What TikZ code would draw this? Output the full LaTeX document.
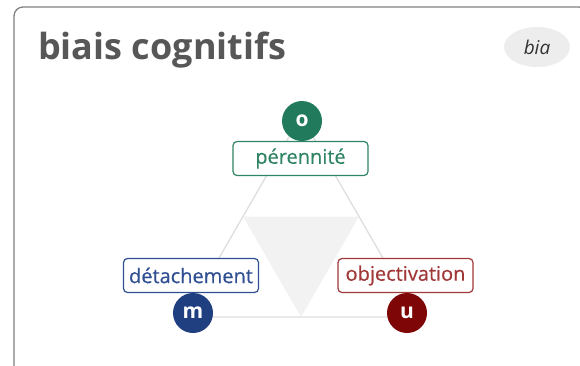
\documentclass[tikz,border=0pt]{standalone}
\usepackage{fontspec}
\setmainfont{Open Sans}
\newfontfamily\labelfont[FakeBold=0.4]{Open Sans}
\usetikzlibrary{calc,shapes.geometric}
\definecolor{poleO}{HTML}{217A5B}
\definecolor{poleM}{HTML}{1F3F80}
\definecolor{poleU}{HTML}{7E0606}
\definecolor{boxO}{HTML}{2E8463}
\definecolor{boxM}{HTML}{2F4F92}
\definecolor{boxU}{HTML}{A03838}
\tikzset{
  pole/.style={circle,fill=#1,minimum size=40,inner sep=0pt,text=white,
    font=\bfseries\fontsize{21}{21}\selectfont},
  polebox/.style={draw=#1,text=#1,fill=white,line width=1.2pt,rounded corners=4pt,
    minimum width=135,minimum height=34,inner sep=0pt,font=\labelfont\fontsize{20}{20}\selectfont},
  edge/.style={black!13,line width=1.3pt}
}
\begin{document}
\begin{tikzpicture}[x=1pt,y=-1pt]
  \useasboundingbox (0,0) rectangle (580,365);
  % card
  \begin{scope}
    \clip (0,0) rectangle (580,365);
    \draw[black!50,line width=1.3pt,rounded corners=9pt] (14,7) rectangle (588,385);
  \end{scope}
  \node[anchor=base west,inner sep=0pt,text=black!66,font=\bfseries\fontsize{36}{40}\selectfont]
    (title) at (38,59) {biais cognitifs};
  \node[ellipse,fill=black!7,minimum width=66,minimum height=40,inner sep=0pt,
    text=black!80,font=\itshape\fontsize{19}{19}\selectfont] (bia) at (537,47) {bia};
  % triangle
  \coordinate (vO) at (301,116);
  \coordinate (vM) at (185,317);
  \coordinate (vU) at (417,317);
  \fill[black!5] ($(vO)!0.5!(vM)$) -- ($(vO)!0.5!(vU)$) -- ($(vM)!0.5!(vU)$) -- cycle;
  \draw[edge] (vO) -- (vM) -- (vU) -- cycle;
  % labels
  \node[polebox=boxO] (perennite) at (300.5,158.5) {pérennité};
  \node[polebox=boxM] (detachement) at (191,275.5) {détachement};
  \node[polebox=boxU] (objectivation) at (405.5,275.5) {objectivation};
  \node[pole=poleO] (o) at (302,121) {o};
  \node[pole=poleM] (m) at (193,313) {m};
  \node[pole=poleU] (u) at (407,313) {u};
\end{tikzpicture}
\end{document}
